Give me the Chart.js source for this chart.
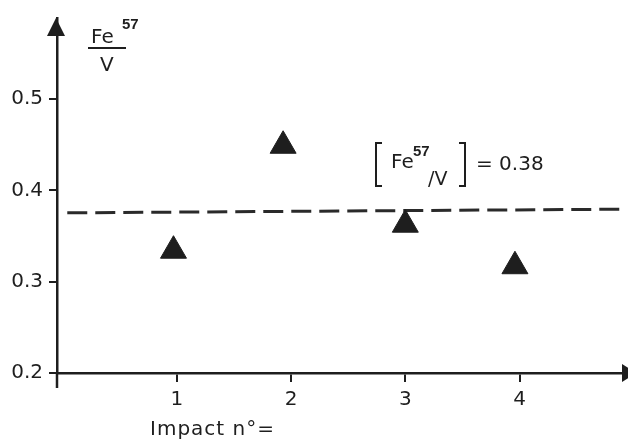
<!DOCTYPE html>
<html>
<head>
<meta charset="utf-8">
<script src="https://cdn.jsdelivr.net/npm/chart.js@4/dist/chart.umd.min.js"></script>
<style>
html,body{margin:0;padding:0;background:#fff;}
#wrap{width:628px;height:441px;position:relative;}
</style>
</head>
<body>
<div id="wrap"><canvas id="c" width="628" height="441"></canvas></div>
<script>
// Data
const impactNumbers = [0.97, 1.93, 3.0, 3.96];
const feVRatios = [0.334, 0.449, 0.3625, 0.317];
const meanLineX = [0.04, 4.88];
const meanLineY = [0.3755, 0.3795];
const xTicks = [1, 2, 3, 4];
const yTicks = [0.2, 0.3, 0.4, 0.5];
const xAxisLabel = 'Impact n°=';
const meanLabel = '= 0.38';

const ink = '#1e1e1e';

const decor = {
  id: 'decor',
  afterDraw(chart) {
    const ctx = chart.ctx;
    const a = chart.chartArea;
    ctx.save();
    ctx.strokeStyle = ink;
    ctx.fillStyle = ink;
    // y axis extension below x axis
    ctx.lineWidth = 2.5;
    ctx.beginPath();
    ctx.moveTo(a.left, a.bottom);
    ctx.lineTo(a.left, a.bottom + 15);
    ctx.stroke();
    // y arrow
    ctx.beginPath();
    ctx.moveTo(a.left - 1, a.top);
    ctx.lineTo(a.left - 10, a.top + 18);
    ctx.lineTo(a.left + 8, a.top + 18);
    ctx.closePath();
    ctx.fill();
    // x arrow
    ctx.beginPath();
    ctx.moveTo(a.right + 8, a.bottom);
    ctx.lineTo(a.right - 6, a.bottom - 9);
    ctx.lineTo(a.right - 6, a.bottom + 9);
    ctx.closePath();
    ctx.fill();

    // y-axis title: Fe57 / V
    ctx.textBaseline = 'alphabetic';
    ctx.textAlign = 'left';
    ctx.font = '20px "DejaVu Sans"';
    ctx.fillText('Fe', 91, 43);
    ctx.font = 'bold 15px "Liberation Sans"';
    ctx.fillText('57', 122, 29);
    ctx.lineWidth = 2;
    ctx.beginPath();
    ctx.moveTo(88, 48);
    ctx.lineTo(126, 48);
    ctx.stroke();
    ctx.font = '20px "DejaVu Sans"';
    ctx.fillText('V', 100, 71);

    // annotation [Fe57/V] = 0.38
    ctx.lineWidth = 2;
    ctx.beginPath();
    ctx.moveTo(382, 143); ctx.lineTo(376, 143); ctx.lineTo(376, 186); ctx.lineTo(382, 186);
    ctx.stroke();
    ctx.beginPath();
    ctx.moveTo(459, 143); ctx.lineTo(465, 143); ctx.lineTo(465, 186); ctx.lineTo(459, 186);
    ctx.stroke();
    ctx.font = '20px "DejaVu Sans"';
    ctx.fillText('Fe', 391, 168);
    ctx.font = 'bold 15px "Liberation Sans"';
    ctx.fillText('57', 413, 156);
    ctx.font = '19px "DejaVu Sans"';
    ctx.fillText('/V', 428, 185);
    ctx.font = '20px "DejaVu Sans"';
    ctx.fillText(meanLabel, 476, 170);

    // x-axis label
    ctx.font = '20px "DejaVu Sans"';
    if ('letterSpacing' in ctx) ctx.letterSpacing = '1px';
    ctx.fillText(xAxisLabel, 150, 435);
    ctx.restore();
  }
};

new Chart(document.getElementById('c'), {
  type: 'scatter',
  data: {
    datasets: [
      {
        label: 'Fe57/V',
        data: impactNumbers.map((x, i) => ({x: x, y: feVRatios[i]})),
        pointStyle: 'triangle',
        pointRadius: 15,
        pointHoverRadius: 15,
        pointBackgroundColor: ink,
        pointBorderColor: ink,
        pointBorderWidth: 1,
        showLine: false
      },
      {
        label: 'mean',
        type: 'line',
        data: meanLineX.map((x, i) => ({x: x, y: meanLineY[i]})),
        borderColor: '#2a2a2a',
        borderWidth: 3,
        borderDash: [20, 8],
        pointRadius: 0,
        fill: false
      }
    ]
  },
  options: {
    responsive: false,
    animation: false,
    events: [],
    layout: {autoPadding: false, padding: {top: 14, right: 0, left: 0, bottom: 0}},
    plugins: {legend: {display: false}, tooltip: {enabled: false}},
    scales: {
      x: {
        type: 'linear',
        min: -0.05,
        max: 4.95,
        afterBuildTicks: s => { s.ticks = xTicks.map(v => ({value: v})); },
        afterFit: s => { s.height = 68; },
        grid: {display: true, drawOnChartArea: false, drawTicks: true, tickLength: 9, color: ink, lineWidth: 2},
        border: {display: true, color: ink, width: 2.5},
        ticks: {font: {family: 'DejaVu Sans', size: 20}, color: ink, padding: 6, maxRotation: 0, callback: v => String(v)}
      },
      y: {
        type: 'linear',
        min: 0.2,
        max: 0.589,
        afterBuildTicks: s => { s.ticks = yTicks.map(v => ({value: v})); },
        afterFit: s => { s.width = 57; },
        grid: {display: true, drawOnChartArea: false, drawTicks: true, tickLength: 8, color: ink, lineWidth: 2},
        border: {display: true, color: ink, width: 2.5},
        ticks: {font: {family: 'DejaVu Sans', size: 20}, color: ink, padding: 6, callback: v => Number(v).toFixed(1)}
      }
    }
  },
  plugins: [decor]
});
</script>
</body>
</html>
